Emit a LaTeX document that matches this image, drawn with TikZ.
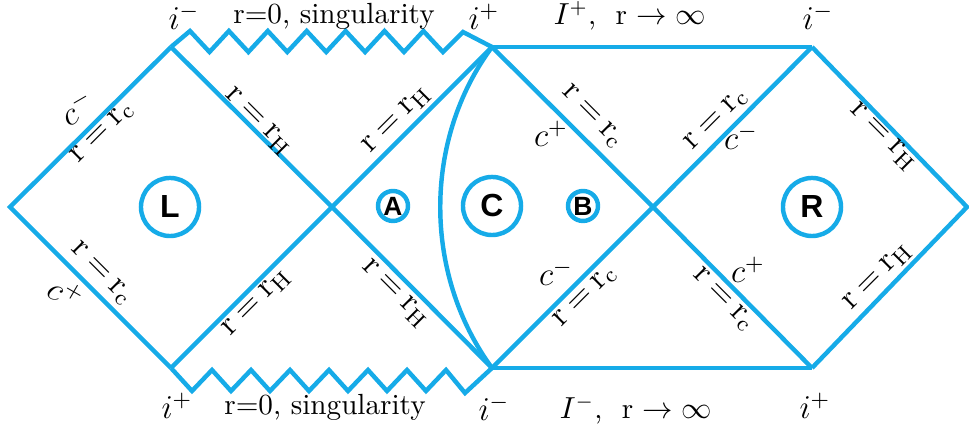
\documentclass[tikz,border=0pt]{standalone}
\usepackage{fontspec}
\newfontfamily\regfont{Liberation Sans}
\usetikzlibrary{calc}
\definecolor{SkyA}{HTML}{16ABE8}
\tikzset{
  wall/.style={draw=SkyA, line width=1.6pt, line join=miter},
  lab/.style={font=\fontsize{10.5}{12}\selectfont, inner sep=1pt},
  elab/.style={font=\fontsize{12}{14}\selectfont, inner sep=0.5pt},
  region/.style={circle, draw=SkyA, line width=1.6pt, minimum size=20.9pt,
                 inner sep=0pt, font=\regfont\bfseries\fontsize{11.5}{13}\selectfont},
  subregion/.style={region, minimum size=10.8pt,
                    font=\regfont\bfseries\fontsize{9.5}{11}\selectfont}
}
\newcommand{\rhor}[1]{$\mathrm{r}\mkern4mu{=}\mkern4mu\mathrm{r}_{\mathrm{#1}}$}

\begin{document}
\begin{tikzpicture}[x=0.36pt, y=-0.36pt]
  \useasboundingbox (0,0) rectangle (969,436);

  % ----- Corner points of the diagram -----
  \coordinate (W)  at (10,207);
  \coordinate (LT) at (171,47);
  \coordinate (LB) at (171,368);
  \coordinate (X1) at (332,207);
  \coordinate (MT) at (492,47);
  \coordinate (MB) at (492,368);
  \coordinate (X2) at (653,207);
  \coordinate (RT) at (812,47);
  \coordinate (RB) at (812,368);
  \coordinate (E)  at (967,207);

  % ----- Null lines -----
  \draw[wall] (LT) -- (W) -- (LB);
  \draw[wall] (LT) -- (X1) -- (MB);
  \draw[wall] (LB) -- (X1) -- (MT);
  \draw[wall] (MT) -- (X2) -- (RB);
  \draw[wall] (MB) -- (X2) -- (RT);
  \draw[wall] (RT) -- (E) -- (RB);

  % ----- Infinity lines and the curved boundary -----
  \draw[wall] (MT) -- (RT);
  \draw[wall] (MB) -- (RB);
  \draw[wall] (MT) .. controls (423,140) and (423,274) .. (MB);

  % ----- Singularities (zigzag) -----
  \draw[wall] (LT) foreach \k in {0,...,6} { -- ({190+38.9*\k},31) -- ({209.5+38.9*\k},52) }
    -- (463,32) -- (MT);
  \draw[wall] (LB) foreach \k in {0,...,6} { -- ({192+39*\k},391) -- ({212+39*\k},370) }
    -- (465,393) -- (MB);

  % ----- Top labels -----
  \node[elab] (iTL)  at (184,17) {$i^-$};
  \node[lab]  (sgT)  at (334,16) {r=0,\ singularity};
  \node[elab] (iTM)  at (484,17) {$i^+$};
  \node[lab]  (infT) at (630,16) {$I^+$,\ \ r $\rightarrow\infty$};
  \node[elab] (iTR)  at (818,17) {$i^-$};

  % ----- Bottom labels -----
  \node[elab] (iBL)  at (177,406) {$i^+$};
  \node[lab]  (sgB)  at (325,407) {r=0,\ singularity};
  \node[elab] (iBM)  at (494,408) {$i^-$};
  \node[lab]  (infB) at (636,410) {$I^-$,\ \ r $\rightarrow\infty$};
  \node[elab] (iBR)  at (815,406) {$i^+$};

  % ----- Left diamond -----
  \node[elab, rotate=45]  (lUL) at (103,133) {\rhor{c}};
  \node[elab, rotate=30]  (cUL) at (77,108)  {$c^-$};
  \node[elab, rotate=-45] (lUR) at (258,122) {\rhor{H}};
  \node[elab, rotate=-45] (lDL) at (101,274) {\rhor{c}};
  \node[elab, rotate=-30] (cDL) at (66,293)  {$c^+$};
  \node[elab, rotate=45]  (lDR) at (257,303) {\rhor{H}};

  % ----- Middle diamond -----
  \node[elab, rotate=45]  (mUL) at (397,120) {\rhor{H}};
  \node[elab, rotate=-45] (mDL) at (395,294) {\rhor{H}};
  \node[elab, rotate=-45] (mUR) at (592,117) {\rhor{c}};
  \node[elab]             (cUR) at (551,134) {$c^+$};
  \node[elab, rotate=45]  (mDR) at (586,297) {\rhor{c}};
  \node[elab]             (cDR) at (556,273) {$c^-$};

  % ----- Right diamond -----
  \node[elab, rotate=45]  (rUL) at (717,120) {\rhor{c}};
  \node[elab]             (cRU) at (741,137) {$c^-$};
  \node[elab, rotate=-45] (rDL) at (723,300) {\rhor{c}};
  \node[elab]             (cRD) at (748,270) {$c^+$};
  \node[elab, rotate=-45] (rUR) at (883,137) {\rhor{H}};
  \node[elab, rotate=45]  (rDR) at (878,277) {\rhor{H}};

  % ----- Regions -----
  \node[region]    (L) at (170,207) {L};
  \node[subregion] (A) at (393,206) {A};
  \node[region]    (C) at (492,206) {C};
  \node[subregion] (B) at (583,206) {B};
  \node[region]    (R) at (812,207) {R};

\end{tikzpicture}
\end{document}
